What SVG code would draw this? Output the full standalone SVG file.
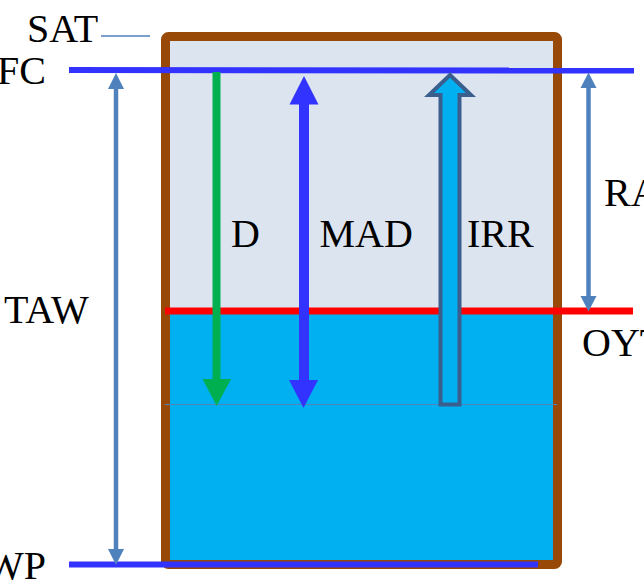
<svg xmlns="http://www.w3.org/2000/svg" width="644" height="586" viewBox="0 0 644 586">
<style>
.lbl{font-family:'Times New Roman','Liberation Serif',Tinos,'DejaVu Serif',serif;font-size:40px;fill:#000}
.lvl{stroke:#3333FF;stroke-width:6;fill:none}
.dim{stroke:#4F81BD;stroke-width:4.5;fill:none}
.dimh{fill:#4F81BD}
</style>
<rect width="644" height="586" fill="#FFFFFF"/>
<g id="container">
<rect x="168" y="39" width="387" height="272" fill="#DCE4F0"/>
<rect x="168" y="311" width="387" height="251" fill="#00B0F0"/>
<rect x="165.5" y="36.5" width="392" height="528" rx="3" fill="none" stroke="#984807" stroke-width="9"/>
</g>
<g id="levels">
<line x1="101" y1="36" x2="150" y2="36" stroke="#4F81BD" stroke-width="1.5"/>
<line class="lvl" x1="69" y1="70" x2="634" y2="70.5"/>
<line x1="165" y1="311" x2="633" y2="311" stroke="#FF0000" stroke-width="7"/>
<line x1="165" y1="404.5" x2="557" y2="404.5" stroke="#4F81BD" stroke-width="1.2"/>
<line class="lvl" x1="69" y1="564.5" x2="538" y2="564.5"/>
</g>
<g id="connectors">
<g id="arrow-TAW">
<line class="dim" x1="116" y1="87" x2="116" y2="551"/>
<polygon class="dimh" points="108,89 124,89 116,73"/>
<polygon class="dimh" points="108,549 124,549 116,565"/>
</g>
<g id="arrow-RA">
<line class="dim" x1="588.5" y1="86" x2="588.5" y2="298"/>
<polygon class="dimh" points="580.5,88 596.5,88 588.5,72.5"/>
<polygon class="dimh" points="580.5,296 596.5,296 588.5,311.5"/>
</g>
<g id="arrow-D">
<rect x="212.5" y="72" width="8" height="309" fill="#00B050"/>
<polygon points="202.5,379 231,379 216.7,406" fill="#00B050"/>
</g>
<g id="arrow-MAD">
<rect x="299" y="102" width="10" height="280" fill="#3333FF"/>
<polygon points="289.5,104.5 318.5,104.5 304,76" fill="#3333FF"/>
<polygon points="289,380 318,380 303.5,408" fill="#3333FF"/>
</g>
<g id="arrow-IRR">
<polygon points="450,75 471,95 459.5,95 459.5,404.5 440.5,404.5 440.5,95 429,95" fill="#00B0F0" stroke="#3A5F8E" stroke-width="4" stroke-linejoin="miter"/>
</g>
</g>
<g id="labels">
<text class="lbl" x="27" y="41.5">SAT</text>
<text class="lbl" x="46" y="83.5" text-anchor="end">FC</text>
<text class="lbl" x="4" y="323">TAW</text>
<text class="lbl" x="46" y="579" text-anchor="end">WP</text>
<text class="lbl" x="231" y="246.5">D</text>
<text class="lbl" x="319.5" y="246.5">MAD</text>
<text class="lbl" x="467" y="246.5">IRR</text>
<text class="lbl" x="604" y="206">RA</text>
<text class="lbl" x="582" y="356">OYT</text>
</g>
</svg>
